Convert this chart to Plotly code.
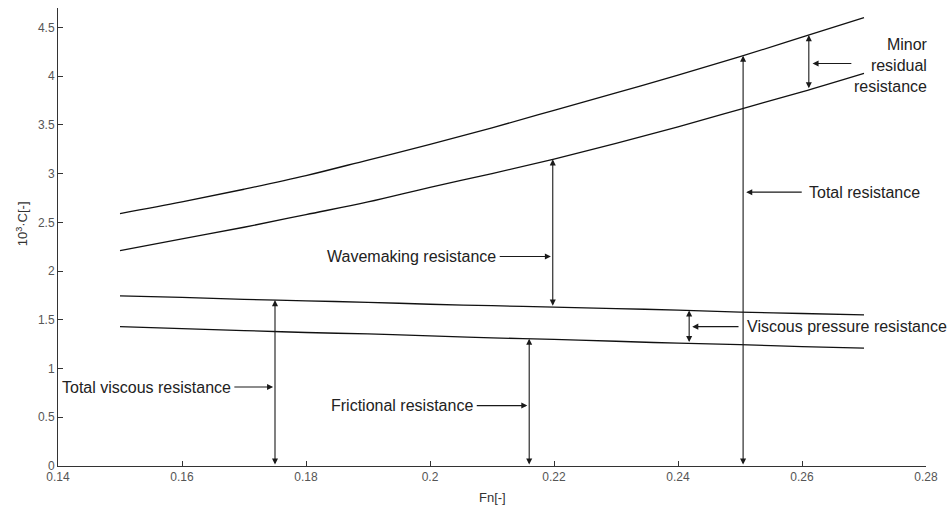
import numpy as np
import plotly.graph_objects as go

# ---- data ----
fn = [0.15, 0.16, 0.17, 0.18, 0.19, 0.20, 0.21, 0.22, 0.23, 0.24, 0.25, 0.26, 0.27]
c_total = [2.59, 2.71, 2.84, 2.98, 3.14, 3.30, 3.47, 3.65, 3.83, 4.01, 4.20, 4.40, 4.60]
c_visc_wave = [2.21, 2.33, 2.45, 2.58, 2.71, 2.86, 3.00, 3.15, 3.31, 3.48, 3.66, 3.84, 4.03]
c_viscous = [1.745, 1.73, 1.71, 1.695, 1.68, 1.66, 1.645, 1.63, 1.615, 1.60, 1.58, 1.565, 1.55]
c_friction = [1.43, 1.41, 1.39, 1.37, 1.355, 1.335, 1.315, 1.30, 1.28, 1.26, 1.245, 1.225, 1.21]

x_ticks = [0.14, 0.16, 0.18, 0.20, 0.22, 0.24, 0.26, 0.28]
y_ticks = [0, 0.5, 1, 1.5, 2, 2.5, 3, 3.5, 4, 4.5]

labels = ["Total viscous resistance", "Frictional resistance", "Wavemaking resistance",
          "Viscous pressure resistance", "Total resistance", "Minor<br>residual<br>resistance"]

FONT = "Liberation Sans, Arial, Helvetica, sans-serif"
LINE = "#111111"
ARROW = "#1a1a1a"
LSIZE = 16

fig = go.Figure()
for ys in (c_total, c_visc_wave, c_viscous, c_friction):
    fig.add_trace(go.Scatter(x=fn, y=ys, mode="lines",
                             line=dict(color=LINE, width=1.3, shape="spline", smoothing=1.0),
                             showlegend=False, hoverinfo="skip"))

def yat(series, x):
    return float(np.interp(x, fn, series))

annos = []

def dbl(x, y0, y1):
    annos.append(dict(x=x, y=y1, ax=x, ay=y0, xref="x", yref="y", axref="x", ayref="y",
                      text="", showarrow=True, arrowhead=2, arrowsize=1.1, arrowwidth=1.1,
                      arrowcolor=ARROW, arrowside="end+start", startarrowhead=2,
                      startarrowsize=1.1))

def pointer(xh, xt, y):
    annos.append(dict(x=xh, y=y, ax=xt, ay=y, xref="x", yref="y", axref="x", ayref="y",
                      text="", showarrow=True, arrowhead=2, arrowsize=1.1, arrowwidth=1.1,
                      arrowcolor=ARROW))

def label(text, x, y, anchor):
    annos.append(dict(x=x, y=y, xref="x", yref="y", text=text, showarrow=False,
                      xanchor=anchor, yanchor="middle",
                      font=dict(family=FONT, size=LSIZE, color="#222222")))

# Total viscous resistance
xa = 0.175
dbl(xa, 0, yat(c_viscous, xa))
pointer(xa - 0.0003, 0.1682, 0.81)
label(labels[0], 0.1682, 0.81, "right")

# Frictional resistance
xa = 0.2160
dbl(xa, 0, yat(c_friction, xa))
pointer(xa - 0.0003, 0.2073, 0.62)
label(labels[1], 0.2073, 0.62, "right")

# Wavemaking resistance
xa = 0.2198
dbl(xa, yat(c_viscous, xa), yat(c_visc_wave, xa))
pointer(xa - 0.0003, 0.2110, 2.15)
label(labels[2], 0.2110, 2.15, "right")

# Viscous pressure resistance
xa = 0.2418
dbl(xa, yat(c_friction, xa), yat(c_viscous, xa))
pointer(xa + 0.0005, 0.2500, 1.43)
label(labels[3], 0.2508, 1.43, "left")

# Total resistance
xa = 0.2505
dbl(xa, 0, yat(c_total, xa))
pointer(xa + 0.0005, 0.2602, 2.81)
label(labels[4], 0.2608, 2.81, "left")

# Minor residual resistance
xa = 0.2611
dbl(xa, yat(c_visc_wave, xa), yat(c_total, xa))
pointer(xa + 0.0006, 0.2682, 4.13)
annos.append(dict(x=1.0046, y=4.11, xref="paper", yref="y", text=labels[5], showarrow=False,
                  xanchor="right", yanchor="middle", align="right",
                  font=dict(family=FONT, size=LSIZE, color="#222222")))

# axis titles
annos.append(dict(x=-0.0415, y=0.53, xref="paper", yref="paper", text="10<sup>3</sup>·C[-]",
                  showarrow=False, textangle=-90, xanchor="center", yanchor="middle",
                  font=dict(family=FONT, size=13, color="#333333")))
annos.append(dict(x=0.5, y=-0.068, xref="paper", yref="paper", text="Fn[-]",
                  showarrow=False, xanchor="center", yanchor="middle",
                  font=dict(family=FONT, size=13, color="#333333")))

axis_common = dict(showgrid=False, zeroline=False, showline=True, linecolor="#333333",
                   linewidth=1, ticks="inside", ticklen=5, tickcolor="#333333",
                   tickfont=dict(family=FONT, size=12, color="#555555"))

fig.update_layout(
    width=948, height=510,
    margin=dict(l=58, r=22, t=8, b=44),
    paper_bgcolor="white", plot_bgcolor="white",
    xaxis=dict(range=[0.14, 0.28], tickvals=x_ticks,
               ticktext=[f"{v:g}" for v in x_ticks], **axis_common),
    yaxis=dict(range=[0, 4.7], tickvals=y_ticks,
               ticktext=[f"{v:g}" for v in y_ticks], **axis_common),
    annotations=annos,
    showlegend=False,
)

fig.write_html("out.html")
